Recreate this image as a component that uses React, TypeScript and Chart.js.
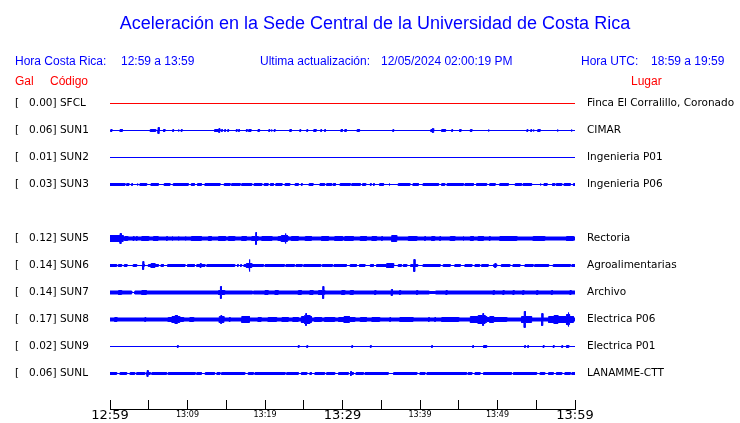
import React, { useEffect, useRef } from 'react';
import { Chart, registerables } from 'chart.js';

Chart.register(...registerables);

// ---------- Data ----------
const TITLE = 'Aceleración en la Sede Central de la Universidad de Costa Rica';
const LOCAL_LABEL = 'Hora Costa Rica:';
const LOCAL_RANGE = '12:59 a 13:59';
const UPDATE_LABEL = 'Ultima actualización:';
const UPDATE_VALUE = '12/05/2024 02:00:19 PM';
const UTC_LABEL = 'Hora UTC:';
const UTC_RANGE = '18:59 a 19:59';
const COL_GAL = 'Gal';
const COL_CODE = 'Código';
const COL_PLACE = 'Lugar';

// one row per station slot (row 4 = SUN4 slot, empty)
const STATION_CODES = ['SFCL', 'SUN1', 'SUN2', 'SUN3', '', 'SUN5', 'SUN6', 'SUN7', 'SUN8', 'SUN9', 'SUNL'];
const PEAK_GAL = ['0.00', '0.06', '0.01', '0.03', '', '0.12', '0.14', '0.14', '0.17', '0.02', '0.06'];
const PLACES = [
  'Finca El Corralillo, Coronado', 'CIMAR', 'Ingenieria P01', 'Ingenieria P06', '',
  'Rectoria', 'Agroalimentarias', 'Archivo', 'Electrica P06', 'Electrica P01', 'LANAMME-CTT',
];

// time axis (minutes after 12:59)
const TIME_MIN = 0;
const TIME_MAX = 60;
const TICK_STEP = 5;
const TIME_LABELS = ['12:59', '13:09', '13:19', '13:29', '13:39', '13:49', '13:59'];

// trace half-amplitude: base level + bursts [start min, end min, amplitude]
type Burst = [number, number, number];
const BASE_LEVEL = [0, 0, 0, 0, 0, 1.5, 0, 1.5, 1.5, 0, 0];

const SFCL_BURSTS: Burst[] = [];
const SUN1_BURSTS: Burst[] = [
  [0.1, 0.25, 1], [1.3, 1.6, 1], [5.2, 5.9, 1], [6.2, 6.35, 3], [6.9, 7.1, 1], [8.1, 8.2, 1], [8.8, 8.9, 1],
  [9.2, 9.3, 1], [13.5, 14.2, 1], [14.05, 14.15, 2], [14.4, 14.5, 1], [14.8, 14.9, 1], [15.2, 15.3, 1],
  [16.3, 16.4, 1], [16.6, 16.7, 1], [17.6, 17.7, 1], [17.9, 18.2, 1], [19.1, 19.3, 1], [20.5, 20.6, 1],
  [20.8, 20.9, 1], [21.2, 21.3, 1], [23.2, 23.4, 1], [24.5, 24.6, 1], [25.4, 25.5, 1], [26.3, 26.6, 1],
  [27.2, 27.3, 1], [27.7, 27.8, 1], [29.8, 30.0, 1], [30.3, 30.5, 1], [31.9, 32.2, 1], [36.5, 36.6, 1],
  [41.4, 41.8, 1], [41.6, 41.7, 2], [42.8, 43.3, 1], [44.1, 44.2, 1], [45.1, 45.3, 1], [46.5, 46.7, 1],
  [48.8, 48.9, 1], [53.8, 53.9, 1], [54.3, 54.4, 1], [54.6, 54.7, 1], [55.2, 55.5, 1], [57.7, 57.8, 1],
  [59.5, 59.6, 1],
];
const SUN2_BURSTS: Burst[] = [];
const SUN3_BURSTS: Burst[] = [
  [0, 1.94, 1], [2.15, 2.45, 1], [2.8, 2.9, 1], [3.5, 3.6, 1], [3.87, 4.73, 1], [5.3, 6.24, 1], [7.0, 7.74, 1],
  [8.17, 10.1, 1], [10.5, 10.9, 1], [11.3, 11.8, 1], [12.26, 14.2, 1], [14.75, 15.5, 1], [15.7, 16.8, 1],
  [17.0, 18.3, 1], [18.6, 19.6, 1], [19.9, 20.4, 1], [20.7, 21.1, 1], [21.4, 22.2, 1], [22.6, 23.2, 1],
  [23.9, 24.3, 1], [24.7, 24.8, 1], [25.7, 26.2, 1], [27.1, 27.7, 1], [27.96, 28.6, 1], [28.8, 29.1, 1],
  [29.7, 31.0, 1], [31.2, 32.3, 1], [32.6, 33.0, 1], [33.6, 33.7, 1], [34.0, 34.1, 1], [34.8, 35.3, 1],
  [36.0, 36.1, 1], [37.2, 38.7, 1], [39.1, 39.8, 1], [40.4, 42.4, 1], [42.8, 43.2, 1], [43.5, 45.6, 1],
  [45.8, 46.9, 1], [47.3, 48.6, 1], [49.0, 49.7, 1], [50.3, 51.4, 1], [52.3, 53.1, 1], [53.3, 54.4, 1],
  [55.5, 55.6, 1], [56.0, 56.4, 1], [57.1, 57.4, 1], [57.6, 58.3, 1], [58.6, 59.4, 1], [59.8, 60, 1],
];
const SUN4_BURSTS: Burst[] = [];
const SUN5_BURSTS: Burst[] = [
  [0, 1.7, 3], [1.3, 1.45, 5], [1.9, 2.3, 2], [3.0, 3.1, 2], [3.4, 3.5, 2], [4.1, 5.0, 2], [5.6, 6.2, 2],
  [7.3, 7.4, 2], [8.0, 8.1, 2], [8.8, 8.9, 2], [9.7, 9.8, 2], [10.5, 11.8, 2], [12.7, 13.1, 2],
  [14.0, 14.9, 2], [15.3, 16.1, 2], [17.0, 17.6, 2], [18.3, 19.1, 2], [18.8, 18.9, 6], [19.6, 20.9, 2],
  [21.7, 23.0, 2], [22.1, 22.9, 3], [22.6, 22.7, 5], [23.4, 24.3, 2], [25.2, 26.0, 2], [27.3, 28.2, 2],
  [29.0, 30.0, 2], [30.3, 31.4, 2], [32.3, 33.1, 2], [33.8, 34.4, 2], [35.05, 35.15, 2], [36.35, 37.0, 3],
  [38.5, 39.6, 2], [40.6, 40.7, 2], [41.5, 41.9, 2], [42.55, 42.65, 2], [43.9, 44.5, 2], [45.55, 45.65, 2],
  [46.5, 46.9, 2], [47.5, 48.2, 2], [48.95, 49.05, 2], [50.3, 52.5, 2], [54.6, 56.1, 2], [58.9, 59.8, 2],
];
const SUN6_BURSTS: Burst[] = [
  [0, 0.86, 1], [1.08, 1.5, 1], [1.85, 2.2, 1], [3.0, 3.44, 1], [4.17, 4.43, 1], [4.25, 4.35, 4],
  [4.95, 6.24, 1], [5.3, 5.8, 2], [6.6, 6.9, 1], [7.44, 9.68, 1], [10.0, 10.9, 1], [11.2, 12.26, 1],
  [11.65, 11.75, 2], [12.5, 16.1, 1], [16.45, 16.55, 1], [16.85, 16.95, 1], [17.3, 18.3, 1], [17.6, 18.3, 2],
  [17.95, 18.05, 6], [18.3, 19.8, 1], [20.0, 22.5, 1], [22.7, 23.8, 1], [24.0, 24.8, 1], [25.0, 27.2, 1],
  [27.4, 28.7, 1], [28.9, 30.5, 1], [31.0, 31.8, 1], [32.2, 32.9, 1], [33.6, 34.0, 1], [34.4, 36.6, 1],
  [35.7, 36.6, 2], [37.2, 37.6, 1], [37.85, 38.3, 1], [38.8, 39.7, 1], [39.2, 39.35, 6], [40.4, 42.6, 1],
  [43.0, 43.9, 1], [44.5, 45.2, 1], [45.8, 46.7, 1], [47.1, 47.7, 1], [47.96, 48.8, 1], [49.5, 49.9, 1],
  [49.65, 49.8, 2], [50.5, 51.6, 1], [52.0, 52.9, 1], [53.55, 54.6, 1], [54.8, 56.6, 1], [57.2, 59.4, 1],
  [59.6, 60, 1],
];
const SUN7_BURSTS: Burst[] = [
  [1.1, 1.5, 2], [2.8, 3.2, 0], [4.1, 4.7, 2], [14.0, 14.8, 2], [14.25, 14.38, 6], [18.4, 18.5, 0],
  [20.0, 20.4, 2], [21.3, 21.7, 2], [24.3, 24.7, 2], [25.8, 26.2, 2], [26.9, 27.7, 2], [27.45, 27.58, 6],
  [29.9, 30.3, 2], [31.0, 31.4, 2], [34.15, 34.3, 2], [36.3, 36.45, 3], [37.35, 37.5, 2], [39.55, 39.7, 2],
  [41.2, 42.0, 1], [43.35, 43.5, 2], [49.45, 49.6, 2], [50.7, 50.85, 2], [52.0, 52.15, 2], [53.25, 53.4, 2],
  [55.05, 55.2, 2], [56.95, 57.1, 2], [59.35, 59.5, 2],
];
const SUN8_BURSTS: Burst[] = [
  [0.6, 0.9, 2], [4.5, 4.6, 2], [7.5, 9.5, 2], [8.0, 9.0, 3], [8.4, 8.7, 4], [10.3, 10.8, 2], [14.1, 14.7, 3],
  [14.3, 14.4, 4], [15.4, 15.5, 2], [17.0, 18.0, 3], [19.1, 19.5, 2], [20.4, 21.5, 2], [22.2, 23.0, 2],
  [23.6, 24.3, 2], [24.7, 26.0, 3], [25.1, 25.8, 4], [25.25, 25.35, 6], [26.4, 27.3, 2], [27.7, 29.0, 2],
  [29.5, 31.6, 2], [30.2, 30.9, 3], [32.3, 33.1, 2], [33.8, 34.8, 2], [36.1, 36.2, 2], [37.4, 39.1, 2],
  [41.1, 41.2, 2], [41.9, 42.0, 2], [42.8, 45.0, 2], [46.5, 48.6, 3], [47.5, 48.4, 4], [48.1, 48.2, 6],
  [48.6, 51.2, 2], [49.0, 49.5, 3], [53.1, 54.4, 3], [53.45, 53.6, 8], [55.7, 55.85, 6], [56.6, 59.8, 3],
  [57.3, 57.8, 4], [58.9, 59.3, 5], [59.1, 59.2, 7],
];
const SUN9_BURSTS: Burst[] = [
  [8.7, 8.8, 1], [24.3, 24.4, 1], [25.4, 25.5, 1], [31.2, 31.3, 1], [33.6, 33.7, 1], [41.5, 41.6, 1],
  [46.8, 46.9, 1], [48.2, 48.6, 1], [53.5, 53.6, 1], [53.9, 54.0, 1], [55.9, 56.0, 1], [57.2, 57.3, 1],
  [58.3, 58.4, 1], [58.9, 59.2, 1],
];
const SUNL_BURSTS: Burst[] = [
  [0, 0.86, 1], [1.3, 2.15, 1], [2.6, 3.2, 1], [3.44, 4.5, 1], [4.7, 5.2, 1], [4.8, 4.92, 3], [5.4, 7.3, 1],
  [7.5, 11.0, 1], [11.2, 11.8, 1], [12.3, 13.5, 1], [13.8, 14.2, 1], [14.4, 17.4, 1], [17.85, 18.5, 1],
  [18.7, 22.6, 1], [22.8, 24.3, 1], [24.7, 25.4, 1], [25.8, 26.0, 1], [26.45, 27.7, 1], [27.96, 29.0, 1],
  [29.5, 30.75, 1], [31.0, 31.4, 1], [31.05, 31.15, 2], [31.75, 32.7, 1], [32.9, 35.9, 1], [36.6, 39.6, 1],
  [40.0, 40.65, 1], [40.9, 46.0, 1], [46.2, 46.7, 1], [47.1, 47.75, 1], [48.2, 51.8, 1], [52.05, 55.05, 1],
  [55.5, 56.1, 1], [56.6, 57.2, 1], [57.6, 58.3, 1], [58.7, 59.4, 1], [59.6, 60, 1],
];
const STATION_BURSTS: Burst[][] = [
  SFCL_BURSTS, SUN1_BURSTS, SUN2_BURSTS, SUN3_BURSTS, SUN4_BURSTS, SUN5_BURSTS,
  SUN6_BURSTS, SUN7_BURSTS, SUN8_BURSTS, SUN9_BURSTS, SUNL_BURSTS,
];

// ---------- Styles ----------
const BLUE = 'rgb(0,0,255)';
const RED = 'rgb(255,0,0)';
const TRACE_COLORS = [RED, BLUE, BLUE, BLUE, BLUE, BLUE, BLUE, BLUE, BLUE, BLUE, BLUE];
const ROW_GAP = 27;
const SANS = '"Liberation Sans", Arial, sans-serif';
const DEJAVU = '"DejaVu Sans", sans-serif';

function buildEnvelope(base: number, bursts: Burst[]) {
  const cuts = new Set<number>([TIME_MIN, TIME_MAX]);
  bursts.forEach(([a, b]) => {
    cuts.add(Math.max(TIME_MIN, a));
    cuts.add(Math.min(TIME_MAX, b));
  });
  const xs = Array.from(cuts).sort((p, q) => p - q);
  const pts: { x: number; h: number }[] = [];
  let prev: number | null = null;
  for (let k = 0; k < xs.length - 1; k++) {
    const a = xs[k];
    const b = xs[k + 1];
    const m = (a + b) / 2;
    let h = base;
    for (const [s, e, v] of bursts) if (m >= s && m <= e) h = v;
    if (h !== prev) {
      if (prev !== null) pts.push({ x: a, h: prev });
      pts.push({ x: a, h });
      prev = h;
    }
  }
  pts.push({ x: TIME_MAX, h: prev as number });
  return pts;
}

const headerPlugin = {
  id: 'headerText',
  afterDraw(chart: any) {
    const ctx = chart.ctx as CanvasRenderingContext2D;
    ctx.save();
    ctx.textBaseline = 'alphabetic';
    ctx.fillStyle = BLUE;
    ctx.font = `18px ${SANS}`;
    ctx.textAlign = 'center';
    ctx.fillText(TITLE, 375, 29);
    ctx.textAlign = 'left';
    ctx.font = `12px ${SANS}`;
    ctx.fillText(LOCAL_LABEL, 15, 65);
    ctx.fillText(LOCAL_RANGE, 121, 65);
    ctx.fillText(UPDATE_LABEL, 260, 65);
    ctx.fillText(UPDATE_VALUE, 381, 65);
    ctx.fillText(UTC_LABEL, 581, 65);
    ctx.fillText(UTC_RANGE, 651, 65);
    ctx.fillStyle = RED;
    ctx.fillText(COL_GAL, 15, 85);
    ctx.fillText(COL_CODE, 50, 85);
    ctx.fillText(COL_PLACE, 631, 85);
    ctx.restore();
  },
};

export default function App() {
  const ref = useRef<HTMLCanvasElement | null>(null);

  useEffect(() => {
    document.body.style.margin = '0';
    const canvas = ref.current;
    if (!canvas) return;

    const rows = STATION_CODES.map((c, i) => i).filter((i) => STATION_CODES[i] !== '');
    const datasets: any[] = [];
    rows.forEach((i) => {
      const center = -i * ROW_GAP;
      const env = buildEnvelope(BASE_LEVEL[i], STATION_BURSTS[i]);
      const color = TRACE_COLORS[i];
      const common = {
        type: 'line',
        borderColor: color,
        backgroundColor: color,
        borderWidth: 1,
        pointRadius: 0,
        tension: 0,
        xAxisID: 'x',
        yAxisID: 'y',
      };
      datasets.push({ ...common, label: STATION_CODES[i] + '+', data: env.map((p) => ({ x: p.x, y: center + p.h })), fill: false });
      datasets.push({ ...common, label: STATION_CODES[i] + '-', data: env.map((p) => ({ x: p.x, y: center - p.h })), fill: '-1' });
    });

    const rowTicks = rows.map((i) => ({ value: -i * ROW_GAP }));
    const rowOf = (v: number) => Math.round(-v / ROW_GAP);
    const yMax = 13.5;
    const yMin = -305.5;
    const noPad = (s: any) => {
      s.paddingTop = 0;
      s.paddingBottom = 0;
      s.paddingLeft = 0;
      s.paddingRight = 0;
    };

    const chart = new Chart(canvas, {
      type: 'line',
      data: { datasets },
      plugins: [headerPlugin],
      options: {
        animation: false,
        responsive: false,
        devicePixelRatio: 1,
        events: [],
        layout: { padding: { left: 15, right: 0, top: 90, bottom: 0 } },
        plugins: { legend: { display: false }, tooltip: { enabled: false }, title: { display: false } },
        scales: {
          x: {
            type: 'linear',
            position: 'bottom',
            min: TIME_MIN,
            max: TIME_MAX,
            grid: { display: true, drawOnChartArea: false, drawTicks: true, tickLength: -9, color: '#000', lineWidth: 1 },
            border: { display: true, color: '#000', width: 1 },
            ticks: {
              stepSize: TICK_STEP,
              autoSkip: false,
              maxRotation: 0,
              padding: 8,
              color: '#000',
              callback: (v: any) => (Number(v) % 10 === 0 ? TIME_LABELS[Number(v) / 10] : ''),
              font: (ctx: any) => {
                const v = ctx.tick ? ctx.tick.value : 0;
                return v % 30 === 0
                  ? { family: DEJAVU, size: 13, lineHeight: '15px' }
                  : { family: DEJAVU, size: 8, lineHeight: '14px' };
              },
            },
            afterFit: (s: any) => { s.height = 14; noPad(s); },
          },
          y: {
            type: 'linear',
            position: 'left',
            min: yMin,
            max: yMax,
            grid: { display: false, drawTicks: false },
            border: { display: false },
            ticks: {
              autoSkip: false,
              crossAlign: 'far',
              padding: 0,
              color: '#000',
              font: { family: DEJAVU, size: 10.5 },
              callback: (v: any) => {
                const i = rowOf(Number(v));
                return `[   ${PEAK_GAL[i]}] ${STATION_CODES[i]}`;
              },
            },
            afterBuildTicks: (s: any) => { s.ticks = rowTicks.map((t) => ({ ...t })); },
            afterFit: (s: any) => { s.width = 95; noPad(s); },
          },
          y2: {
            type: 'linear',
            position: 'right',
            min: yMin,
            max: yMax,
            grid: { display: false, drawTicks: false },
            border: { display: false },
            ticks: {
              autoSkip: false,
              crossAlign: 'near',
              padding: 12,
              color: '#000',
              font: { family: DEJAVU, size: 10.5 },
              callback: (v: any) => PLACES[rowOf(Number(v))],
            },
            afterBuildTicks: (s: any) => { s.ticks = rowTicks.map((t) => ({ ...t })); },
            afterFit: (s: any) => { s.width = 165; noPad(s); },
          },
        },
      } as any,
    });

    return () => chart.destroy();
  }, []);

  return (
    <div style={{ position: 'absolute', left: 0, top: 0, width: 740, height: 423, background: '#fff' }}>
      <canvas ref={ref} width={740} height={423} style={{ display: 'block' }} />
    </div>
  );
}
